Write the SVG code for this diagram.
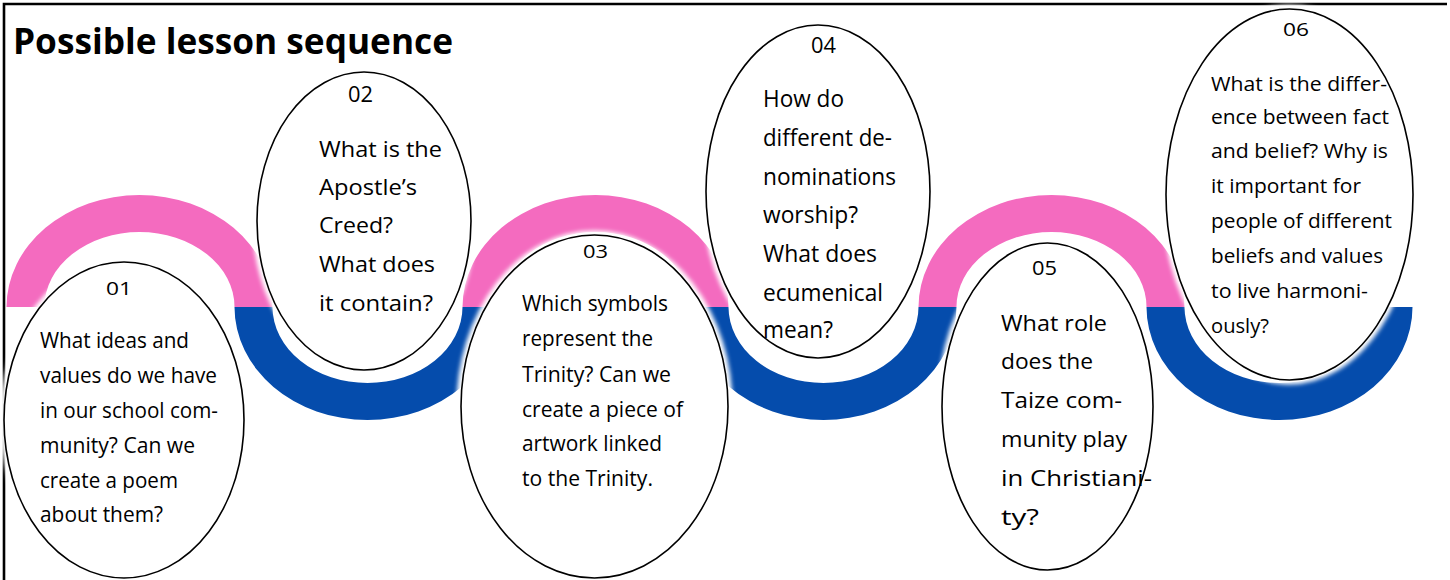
<svg xmlns="http://www.w3.org/2000/svg" width="1450" height="580" viewBox="0 0 1450 580">
<defs>
<filter id="soft" x="-10%" y="-10%" width="120%" height="120%"><feGaussianBlur stdDeviation="2"/></filter>
</defs>
<style>
.pink{fill:#F46BBF}
.blue{fill:#054CAC}
.halo{fill:none;stroke:#fff;stroke-width:9;filter:url(#soft)}
.node{fill:#fff;stroke:#000;stroke-width:1.6}
.t{font-family:"Open Sans","Noto Sans",sans-serif;fill:#000}
.num{font-family:"Open Sans","Noto Sans",sans-serif;fill:#000}
.title{font-family:"Open Sans","Noto Sans",sans-serif;font-weight:bold;font-size:36px;fill:#000}
.frame{fill:none;stroke:#000;stroke-width:2.6}
</style>
<rect width="1450" height="580" fill="#fff"/>
<path class="frame" d="M4,580 L4,4 L1447,4"/>
<text class="title" x="13" y="54" textLength="440" lengthAdjust="spacingAndGlyphs">Possible lesson sequence</text>
<g id="connectors">
<path class="pink" d="M6.5,307 A133,112 0 0 1 272.5,307 L234.5,307 A95,75 0 0 0 44.5,307 Z"/>
<path class="blue" d="M234.5,307 A133,113 0 0 0 500.5,307 L462.5,307 A95,76 0 0 1 272.5,307 Z"/>
<path class="pink" d="M462.5,307 A133,112 0 0 1 728.5,307 L690.5,307 A95,75 0 0 0 500.5,307 Z"/>
<path class="blue" d="M690.5,307 A133,113 0 0 0 956.5,307 L918.5,307 A95,76 0 0 1 728.5,307 Z"/>
<path class="pink" d="M918.5,307 A133,112 0 0 1 1184.5,307 L1146.5,307 A95,75 0 0 0 956.5,307 Z"/>
<path class="blue" d="M1146.5,307 A133,113 0 0 0 1412.5,307 L1374.5,307 A95,76 0 0 1 1184.5,307 Z"/>
</g>
<g id="node01">
<ellipse class="halo" cx="124" cy="420" rx="120" ry="158"/>
<ellipse class="node" cx="124" cy="420" rx="120" ry="158"/>
<text class="num" x="106" y="295" font-size="19" textLength="26" lengthAdjust="spacingAndGlyphs">01</text>
<g class="t" font-size="21">
<text x="40" y="348" textLength="149" lengthAdjust="spacingAndGlyphs">What ideas and</text>
<text x="40" y="383" textLength="177" lengthAdjust="spacingAndGlyphs">values do we have</text>
<text x="40" y="418" textLength="178" lengthAdjust="spacingAndGlyphs">in our school com-</text>
<text x="40" y="453" textLength="155" lengthAdjust="spacingAndGlyphs">munity? Can we</text>
<text x="40" y="488" textLength="138" lengthAdjust="spacingAndGlyphs">create a poem</text>
<text x="40" y="522" textLength="123" lengthAdjust="spacingAndGlyphs">about them?</text>
</g>
</g>
<g id="node02">
<ellipse class="halo" cx="364" cy="221" rx="107" ry="149"/>
<ellipse class="node" cx="364" cy="221" rx="107" ry="149"/>
<text class="num" x="348" y="102" font-size="21.5" textLength="25" lengthAdjust="spacingAndGlyphs">02</text>
<g class="t" font-size="22">
<text x="319" y="157" textLength="123" lengthAdjust="spacingAndGlyphs">What is the</text>
<text x="319" y="195" textLength="98" lengthAdjust="spacingAndGlyphs">Apostle’s</text>
<text x="319" y="233" textLength="74" lengthAdjust="spacingAndGlyphs">Creed?</text>
<text x="319" y="272" textLength="116" lengthAdjust="spacingAndGlyphs">What does</text>
<text x="319" y="311" textLength="114" lengthAdjust="spacingAndGlyphs">it contain?</text>
</g>
</g>
<g id="node03">
<ellipse class="halo" cx="594.5" cy="406.5" rx="133.5" ry="171.5"/>
<ellipse class="node" cx="594.5" cy="406.5" rx="133.5" ry="171.5"/>
<text class="num" x="583" y="258" font-size="19" textLength="25" lengthAdjust="spacingAndGlyphs">03</text>
<g class="t" font-size="21.5">
<text x="522" y="311" textLength="146" lengthAdjust="spacingAndGlyphs">Which symbols</text>
<text x="522" y="346" textLength="131" lengthAdjust="spacingAndGlyphs">represent the</text>
<text x="522" y="382" textLength="149" lengthAdjust="spacingAndGlyphs">Trinity? Can we</text>
<text x="522" y="417" textLength="161" lengthAdjust="spacingAndGlyphs">create a piece of</text>
<text x="522" y="451" textLength="140" lengthAdjust="spacingAndGlyphs">artwork linked</text>
<text x="522" y="486" textLength="131" lengthAdjust="spacingAndGlyphs">to the Trinity.</text>
</g>
</g>
<g id="node04">
<ellipse class="halo" cx="818" cy="191.5" rx="112" ry="166.5"/>
<ellipse class="node" cx="818" cy="191.5" rx="112" ry="166.5"/>
<text class="num" x="811" y="53" font-size="21.5" textLength="25" lengthAdjust="spacingAndGlyphs">04</text>
<g class="t" font-size="23">
<text x="763" y="107" textLength="81" lengthAdjust="spacingAndGlyphs">How do</text>
<text x="763" y="146" textLength="129" lengthAdjust="spacingAndGlyphs">different de-</text>
<text x="763" y="185" textLength="133" lengthAdjust="spacingAndGlyphs">nominations</text>
<text x="763" y="223" textLength="95" lengthAdjust="spacingAndGlyphs">worship?</text>
<text x="763" y="262" textLength="114" lengthAdjust="spacingAndGlyphs">What does</text>
<text x="763" y="301" textLength="120" lengthAdjust="spacingAndGlyphs">ecumenical</text>
<text x="763" y="338" textLength="70" lengthAdjust="spacingAndGlyphs">mean?</text>
</g>
</g>
<g id="node05">
<ellipse class="halo" cx="1047.5" cy="406.5" rx="105.5" ry="163.5"/>
<ellipse class="node" cx="1047.5" cy="406.5" rx="105.5" ry="163.5"/>
<text class="num" x="1032" y="275" font-size="20.5" textLength="25" lengthAdjust="spacingAndGlyphs">05</text>
<g class="t" font-size="21.5">
<text x="1001" y="331" textLength="106" lengthAdjust="spacingAndGlyphs">What role</text>
<text x="1001" y="369" textLength="92" lengthAdjust="spacingAndGlyphs">does the</text>
<text x="1001" y="408" textLength="121" lengthAdjust="spacingAndGlyphs">Taize com-</text>
<text x="1001" y="447" textLength="126" lengthAdjust="spacingAndGlyphs">munity play</text>
<text x="1001" y="486" textLength="151" lengthAdjust="spacingAndGlyphs">in Christiani-</text>
<text x="1001" y="525" textLength="38" lengthAdjust="spacingAndGlyphs">ty?</text>
</g>
</g>
<g id="node06">
<ellipse class="halo" cx="1289.5" cy="194.5" rx="123.5" ry="185.5"/>
<ellipse class="node" cx="1289.5" cy="194.5" rx="123.5" ry="185.5"/>
<text class="num" x="1283" y="36" font-size="19" textLength="26" lengthAdjust="spacingAndGlyphs">06</text>
<g class="t" font-size="20">
<text x="1211" y="91" textLength="176" lengthAdjust="spacingAndGlyphs">What is the differ-</text>
<text x="1211" y="124" textLength="178" lengthAdjust="spacingAndGlyphs">ence between fact</text>
<text x="1211" y="158" textLength="177" lengthAdjust="spacingAndGlyphs">and belief? Why is</text>
<text x="1211" y="193" textLength="150" lengthAdjust="spacingAndGlyphs">it important for</text>
<text x="1211" y="228" textLength="181" lengthAdjust="spacingAndGlyphs">people of different</text>
<text x="1211" y="263" textLength="172" lengthAdjust="spacingAndGlyphs">beliefs and values</text>
<text x="1211" y="298" textLength="157" lengthAdjust="spacingAndGlyphs">to live harmoni-</text>
<text x="1211" y="333" textLength="58" lengthAdjust="spacingAndGlyphs">ously?</text>
</g>
</g>
</svg>
